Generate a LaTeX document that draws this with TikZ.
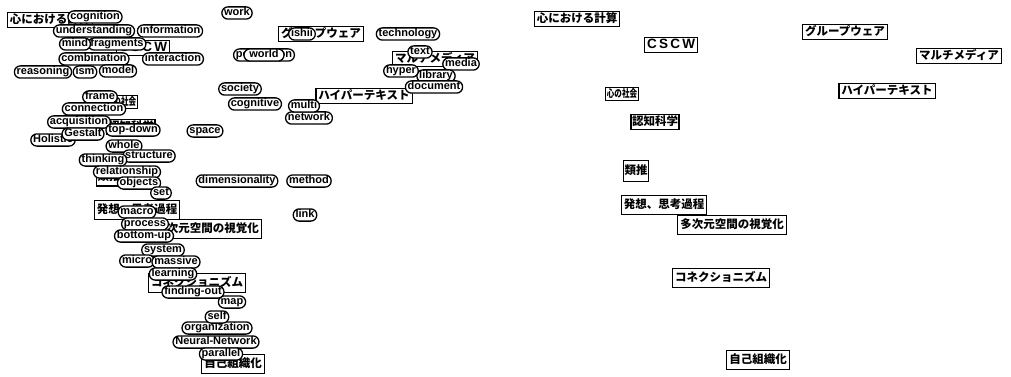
\documentclass[tikz,border=0pt]{standalone}
\usepackage{graphicx}
\usepackage{fontspec}
\newfontfamily\lat{Liberation Sans}
\newfontfamily\jp{Noto Sans CJK JP}
\begin{document}
\begin{tikzpicture}[x=1pt,y=-1pt,
  pill/.style={draw, line width=1.3pt, fill=white, rounded corners=6pt,
    inner xsep=2.3pt, inner ysep=0.9pt,
    font=\lat\bfseries\fontsize{11}{11}\selectfont,
    text height=8pt, text depth=2.4pt},
  jbox/.style={draw, line width=1.2pt, fill=white, inner xsep=2.5pt, inner ysep=1.5pt,
    font=\jp\bfseries\fontsize{11.5}{11.5}\selectfont,
    text height=9.5pt, text depth=2.5pt},
  smallj/.style={jbox, inner xsep=1pt, font=\jp\bfseries\fontsize{10.5}{10.5}\selectfont,
    text height=8.5pt, text depth=2pt},
  tall/.style={minimum height=19.5pt},
  cscw/.style={jbox, font=\lat\bfseries\fontsize{13.5}{13.5}\selectfont, minimum width=52pt}]
\useasboundingbox (0,0) rectangle (1011,377);
\fill[white] (0,0) rectangle (1011,377);

% ---------- right side: concept boxes ----------
\node[jbox] (r1) at (577,19) {心における計算};
\node[cscw] (r2) at (671,45) {C\,S\,C\,W};
\node[jbox] (r3) at (845,32) {グループウェア};
\node[jbox] (r4) at (959,56) {マルチメディア};
\node[jbox] (r5) at (887,91) {ハイパーテキスト};
\node[smallj] (r6) at (622,94) {\scalebox{0.72}[1]{心の社会}};
\node[jbox, inner xsep=1pt] (r7) at (655,122) {認知科学};
\node[jbox, inner xsep=1pt, minimum height=21pt] (r8) at (636,171) {類推};
\node[jbox, tall] (r9) at (664,205) {発想、思考過程};
\node[jbox, tall] (r10) at (732,225) {多次元空間の視覚化};
\node[jbox, tall] (r11) at (721,278) {コネクショニズム};
\node[jbox, tall] (r12) at (758,360) {自己組織化};

% ---------- left side: concept boxes (behind words) ----------
\node[jbox] (l1) at (50,20) {心における計算};
\node[cscw] (l2) at (143,48) {C\,S\,C\,W};
\node[jbox] (l3) at (321,34) {グループウェア};
\node[jbox] (l4) at (435,59) {マルチメディア};
\node[jbox] (l5) at (364,96) {ハイパーテキスト};
\node[smallj] (l6) at (121,102) {\scalebox{0.72}[1]{心の社会}};
\node[jbox, inner xsep=1pt] (l7) at (131,127) {認知科学};
\node[jbox, inner xsep=1pt, minimum height=18pt] (l8) at (109,177) {類推};
\node[jbox, tall] (l9) at (137,210) {発想、思考過程};
\node[jbox, tall] (l10) at (207,229) {多次元空間の視覚化};
\node[jbox, tall] (l11) at (197,283) {コネクショニズム};
\node[jbox, tall] (l12) at (233,364) {自己組織化};

% ---------- left side: keyword pills ----------
\node[pill] (cognition) at (95,17) {cognition};
\node[pill] (understanding) at (94,31) {understanding};
\node[pill] (information) at (170,31) {information};
\node[pill] (fragments) at (117,44) {fragments};
\node[pill] (mind) at (75,44) {mind};
\node[pill] (combination) at (94,59) {combination};
\node[pill] (interaction) at (173,59) {interaction};
\node[pill] (model) at (118,71) {model};
\node[pill] (reasoning) at (43,72) {reasoning};
\node[pill] (ism) at (85,72) {ism};

\node[pill] (work) at (237,13) {work};
\node[pill] (ishii) at (302,34) {ishii};
\node[pill] (technology) at (408,34) {technology};
\node[pill] (perception) at (264,55) {perception};
\node[pill, minimum width=40pt] (world) at (264,55) {world};
\node[pill] (society) at (240,89) {society};
\node[pill] (cognitive) at (255,104) {cognitive};
\node[pill] (network) at (309,118) {network};
\node[pill] (multi) at (304,106) {multi};
\node[pill] (space) at (205,131) {space};

\node[pill] (text) at (420,52) {text};
\node[pill] (media) at (461,64) {media};
\node[pill] (library) at (436,76) {library};
\node[pill] (hyper) at (401,71) {hyper};
\node[pill] (document) at (434,87) {document};

\node[pill] (frame) at (100,97) {frame};
\node[pill] (connection) at (94,109) {connection};
\node[pill] (acquisition) at (79,122) {acquisition};
\node[pill] (topdown) at (133,130) {top-down};
\node[pill] (Holistic) at (53,140) {Holistic};
\node[pill] (Gestalt) at (83,134) {Gestalt};
\node[pill] (whole) at (124,146) {whole};
\node[pill] (structure) at (149,156) {structure};
\node[pill] (thinking) at (103,160) {thinking};
\node[pill] (relationship) at (127,172) {relationship};
\node[pill] (objects) at (139,183) {objects};
\node[pill] (set) at (161,193) {set};

\node[pill] (dimensionality) at (237,181) {dimensionality};
\node[pill] (method) at (309,181) {method};
\node[pill] (link) at (305,215) {link};

\node[pill] (macro) at (137,212) {macro};
\node[pill] (process) at (145,224) {process};
\node[pill] (bottomup) at (144,236) {bottom-up};
\node[pill] (system) at (163,250) {system};
\node[pill] (micro) at (137,261) {micro};
\node[pill] (massive) at (176,262) {massive};
\node[pill] (learning) at (173,274) {learning};
\node[pill] (map) at (232,302) {map};
\node[pill] (findingout) at (193,292) {finding-out};
\node[pill] (organization) at (217,328) {organization};
\node[pill] (self) at (217,317) {self};
\node[pill] (NeuralNetwork) at (216,342) {Neural-Network};
\node[pill] (parallel) at (221,354) {parallel};
\end{tikzpicture}
\end{document}
